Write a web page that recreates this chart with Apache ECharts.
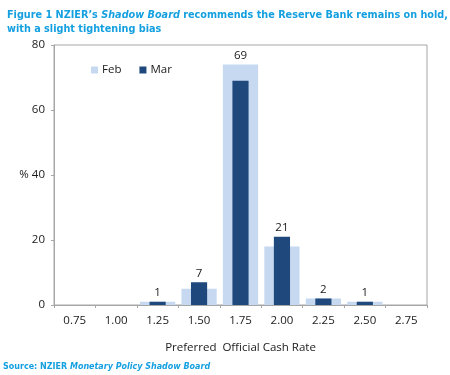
<!DOCTYPE html>
<html><head><meta charset="utf-8">
<script src="https://cdn.jsdelivr.net/npm/echarts@6/dist/echarts.min.js"></script>
<style>html,body{margin:0;padding:0;background:#fff}#c{width:450px;height:375px}</style>
</head><body><div id="c"></div>
<script>
const categories = ['0.75','1.00','1.25','1.50','1.75','2.00','2.25','2.50','2.75'];
const febValues = [0, 0, 1, 5, 74, 18, 2, 1, 0];
const marValues = [0, 0, 1, 7, 69, 21, 2, 1, 0];
const yTicks = [0, 20, 40, 60, 80];

const labelPos = febValues.map((f, i) => Math.max(f, marValues[i]));
const hideZero = arr => arr.map(v => v === 0 ? '-' : v);
const chart = echarts.init(document.getElementById('c'));
const gray = '#a6a6a6';
const txt = '#1a1a1a';
const font = '"Open Sans", "Noto Sans", sans-serif';
const blue = '#14a0e0';
chart.setOption({
  animation: false,
  title: {
    text: '{b|Figure 1 NZIER\u2019s }{i|Shadow Board}{b| recommends the Reserve Bank remains on hold,}\n{b|with a slight tightening bias}',
    left: 2, top: 3,
    textStyle: {
      rich: {
        b: {fontFamily: 'DejaVu Sans', fontWeight: 'bold', fontSize: 9.7, color: blue, lineHeight: 14},
        i: {fontFamily: 'DejaVu Sans', fontWeight: 'bold', fontStyle: 'italic', fontSize: 9.7, color: blue, lineHeight: 14}
      }
    }
  },
  graphic: [{
    type: 'text', left: 3, top: 363,
    style: {
      text: '{b|Source: NZIER }{i|Monetary Policy Shadow Board}',
      rich: {
        b: {fontFamily: 'DejaVu Sans', fontWeight: 'bold', fontSize: 8, fill: blue},
        i: {fontFamily: 'DejaVu Sans', fontWeight: 'bold', fontStyle: 'italic', fontSize: 8, fill: blue}
      }
    }
  }],
  legend: {
    left: 86, top: 59, itemWidth: 7, itemHeight: 7, itemGap: 18, icon: 'rect',
    data: ['Feb', 'Mar'],
    textStyle: {fontFamily: font, fontSize: 11.5, color: txt, padding: [0, 0, 0, -1]}
  },
  grid: {left: 54, right: 23, top: 45, bottom: 70, show: true, borderColor: gray, borderWidth: 1},
  xAxis: [{
    type: 'category', data: categories,
    name: 'Preferred  Official Cash Rate', nameLocation: 'middle', nameGap: 37,
    nameTextStyle: {fontFamily: font, fontSize: 11.5, color: txt},
    axisLine: {lineStyle: {color: gray}},
    axisTick: {show: true, length: 3, lineStyle: {color: gray}},
    axisLabel: {fontFamily: font, fontSize: 11.5, color: txt, margin: 10}
  }, {
    type: 'category', data: categories, position: 'bottom', show: false
  }],
  yAxis: {
    type: 'value', min: yTicks[0], max: yTicks[yTicks.length - 1], interval: 20,
    axisLine: {show: true, lineStyle: {color: gray}},
    axisTick: {show: true, length: 3, lineStyle: {color: gray}},
    splitLine: {show: false},
    axisLabel: {fontFamily: font, fontSize: 11.5, color: txt, margin: 9,
      formatter: v => v === 40 ? '% 40' : String(v)}
  },
  series: [
    {name: 'Feb', type: 'bar', xAxisIndex: 1, data: hideZero(febValues), barWidth: '85%',
      itemStyle: {color: '#c6d9f1'}},
    {name: 'Mar', type: 'bar', xAxisIndex: 0, data: hideZero(marValues), barWidth: '39%', barGap: '-100%',
      itemStyle: {color: '#1f497d'}},
    {name: 'lbl', type: 'bar', xAxisIndex: 0, data: labelPos, barWidth: '39%', barGap: '-100%',
      itemStyle: {color: 'rgba(0,0,0,0)'}, silent: true,
      label: {show: true, position: 'top', distance: 3, fontFamily: font, fontSize: 11.5, color: txt,
        formatter: p => marValues[p.dataIndex] > 0 ? String(marValues[p.dataIndex]) : ''}}
  ]
});
</script></body></html>
